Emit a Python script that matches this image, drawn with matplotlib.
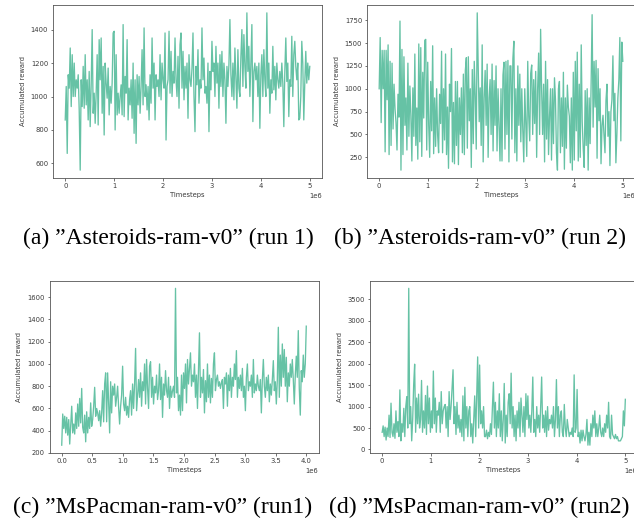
import matplotlib
matplotlib.use('Agg')
import matplotlib.pyplot as plt
import numpy as np

# accumulated reward per evaluation
asteroids_run1 = [
    860, 1060, 660, 1130, 1050, 1290, 940, 1250, 1000, 1200, 1000, 1100, 1050, 1130, 920, 560,
    1100, 940, 1180, 930, 1250, 950, 1100, 860, 1150, 820, 1070, 1400, 900, 1020, 840, 1020,
    1250, 830, 1340, 1100, 1350, 900, 1180, 770, 1200, 1080, 990, 1170, 890, 1060, 960, 1080,
    1380, 1390, 800, 1250, 890, 1020, 900, 1000, 1070, 890, 1430, 880, 1120, 1020, 1340, 860,
    1050, 950, 1100, 870, 1200, 780, 1100, 720, 1130, 950, 1120, 900, 1060, 1280, 950, 1410,
    1000, 1070, 920, 1060, 860, 1130, 960, 1350, 1050, 1200, 860, 1130, 1060, 1100, 1000, 1250,
    980, 1200, 1100, 1050, 1380, 740, 1060, 1100, 1390, 1020, 1270, 1000, 1150, 1080, 1350, 1100,
    1000, 1240, 930, 1310, 1380, 1050, 1270, 980, 1180, 1050, 1200, 870, 1250, 1100, 1060, 1170,
    1380, 1000, 790, 1180, 1070, 1280, 960, 1100, 1050, 1410, 1100, 1230, 1020, 1060, 960, 1200,
    790, 1150, 1040, 1330, 1150, 1200, 1000, 1300, 1080, 1200, 930, 1250, 1060, 1270, 1000, 1200,
    1100, 840, 1180, 1060, 1190, 1460, 1130, 1000, 1200, 980, 1290, 1100, 930, 1280, 1050, 1000,
    1240, 1400, 1060, 1370, 1180, 1050, 1500, 1150, 1300, 1000, 1200, 1430, 850, 1150, 1200, 1100,
    1180, 1000, 1200, 810, 1130, 1250, 1000, 1280, 1100, 1000, 1500, 1050, 1200, 900, 1100, 1020,
    1300, 1040, 1180, 980, 1200, 1100, 1050, 1150, 1060, 1200, 1080, 820, 1150, 1350, 1090, 1200,
    880, 1100, 1060, 1360, 1000, 1250, 1330, 1180, 1100, 1200, 860, 870, 1000, 1330, 1200, 860,
    1080, 1270, 1080, 1200, 1100, 1180,
]

asteroids_run2 = [
    1000, 1560, 630, 1420, 1000, 1420, 310, 1420, 880, 1480, 280, 1300, 380, 1280, 560, 1050,
    780, 630, 330, 940, 690, 1740, 110, 1430, 280, 1350, 600, 900, 330, 1280, 480, 1030,
    700, 210, 1010, 480, 1380, 380, 790, 230, 1490, 420, 1450, 260, 1180, 680, 1530, 1540,
    330, 1290, 600, 250, 1080, 540, 1470, 290, 900, 370, 1000, 500, 300, 940, 620, 1410,
    300, 1000, 440, 1380, 280, 800, 130, 1050, 750, 1440, 200, 850, 180, 1080, 380, 1080,
    170, 900, 500, 1010, 300, 1160, 280, 1200, 1340, 350, 1350, 650, 1000, 140, 1210, 400,
    1300, 920, 340, 1830, 1200, 640, 1010, 380, 1480, 200, 900, 1200, 600, 1270, 250, 900,
    1100, 500, 1270, 320, 1090, 600, 1250, 320, 1000, 600, 210, 1000, 210, 1150, 1290, 340,
    1300, 500, 1310, 200, 1250, 1250, 450, 1330, 1520, 300, 1000, 210, 1250, 600, 1160, 420,
    1000, 550, 200, 1000, 620, 260, 1300, 700, 430, 1170, 1260, 500, 1100, 620, 1190, 250,
    1000, 1390, 500, 1650, 1000, 500, 1050, 200, 1300, 450, 1100, 280, 700, 1000, 220, 1000,
    400, 1120, 880, 300, 110, 1000, 1080, 300, 900, 370, 1180, 120, 900, 350, 1040, 800,
    700, 190, 900, 110, 1180, 220, 1300, 540, 1400, 210, 1050, 250, 1480, 640, 350, 140,
    980, 380, 1000, 110, 900, 400, 1060, 1810, 580, 1300, 800, 1310, 240, 1220, 650, 1000,
    180, 600, 710, 490, 300, 870, 1050, 480, 750, 160, 750, 880, 1360, 650, 950, 190,
    500, 900, 1100, 1560, 430, 1510, 1300,
]

mspacman_run1 = [
    270, 550, 420, 530, 380, 520, 360, 500, 280, 460, 620, 380, 460, 370, 560, 420,
    640, 440, 690, 470, 780, 430, 380, 540, 300, 570, 380, 520, 420, 650, 440, 500,
    620, 790, 530, 600, 560, 490, 580, 440, 560, 760, 480, 820, 920, 480, 920, 650,
    380, 840, 560, 800, 720, 820, 620, 700, 800, 610, 460, 620, 720, 980, 640, 580,
    700, 540, 620, 520, 680, 760, 540, 820, 600, 820, 1140, 580, 720, 860, 700, 920,
    620, 840, 760, 1000, 640, 1040, 780, 600, 980, 1020, 700, 880, 640, 800, 740, 900,
    680, 760, 1000, 680, 880, 520, 820, 720, 940, 760, 700, 880, 600, 800, 700, 760,
    800, 700, 1680, 740, 880, 580, 720, 540, 900, 580, 920, 780, 1000, 650, 1040, 820,
    960, 1100, 800, 900, 840, 1000, 700, 900, 600, 940, 1280, 700, 880, 740, 950, 560,
    850, 660, 1000, 700, 900, 650, 870, 700, 1000, 1100, 760, 860, 900, 800, 840, 780,
    830, 860, 600, 880, 820, 920, 620, 900, 760, 960, 700, 880, 800, 1000, 860, 1120,
    700, 880, 780, 900, 760, 960, 700, 800, 580, 880, 1000, 760, 840, 800, 900, 700,
    1040, 740, 820, 760, 900, 800, 760, 860, 560, 860, 1040, 800, 700, 880, 760, 900,
    660, 820, 720, 860, 1030, 760, 840, 640, 860, 1330, 700, 1080, 800, 1180, 880, 1130,
    800, 1060, 660, 920, 800, 1000, 880, 1040, 860, 640, 900, 1070, 880, 1300, 780, 540,
    940, 840, 1080, 880, 1000, 1340,
]

mspacman_run2 = [
    400, 550, 300, 520, 220, 500, 300, 800, 280, 1080, 400, 300, 600, 260, 900, 400,
    650, 300, 1390, 200, 600, 400, 960, 300, 1000, 1230, 500, 3760, 600, 1000, 200, 700,
    1500, 1990, 400, 1200, 600, 1290, 500, 700, 1610, 400, 900, 500, 1260, 350, 1480, 600,
    1200, 400, 900, 500, 1830, 600, 1200, 400, 900, 800, 1100, 400, 1350, 600, 900, 1000,
    1050, 500, 1000, 300, 1350, 700, 1000, 1450, 1860, 600, 1000, 350, 1100, 500, 800, 400,
    700, 300, 1250, 200, 1450, 500, 1000, 300, 900, 1000, 300, 600, 150, 700, 1250, 300,
    1200, 2160, 500, 1970, 600, 900, 500, 1000, 300, 300, 450, 250, 400, 300, 600, 350,
    1000, 1570, 500, 1100, 300, 900, 500, 1300, 300, 900, 200, 700, 1540, 150, 800, 300,
    1100, 1300, 600, 1780, 500, 1000, 300, 800, 200, 900, 500, 1100, 300, 1200, 800, 400,
    1000, 300, 1300, 700, 1250, 500, 800, 400, 900, 1690, 400, 700, 300, 1000, 500, 800,
    400, 1000, 1690, 500, 800, 400, 900, 300, 1000, 450, 700, 600, 800, 500, 1000, 300,
    700, 1630, 500, 1000, 300, 800, 900, 400, 300, 1050, 500, 300, 700, 500, 300, 400,
    350, 500, 300, 1740, 400, 500, 1400, 300, 400, 150, 450, 200, 450, 300, 200, 350,
    700, 100, 400, 100, 600, 300, 800, 500, 900, 300, 600, 300, 500, 800, 400, 300,
    500, 300, 600, 400, 800, 500, 1100, 300, 250, 800, 350, 300, 250, 350, 250, 300,
    200, 200, 200, 250, 300, 900, 550, 1170,
]

panels = [
    (asteroids_run1, 5e6, '(a) \u201dAsteroids-ram-v0\u201d (run 1)'),
    (asteroids_run2, 5e6, '(b) \u201dAsteroids-ram-v0\u201d (run 2)'),
    (mspacman_run1, 4e6, '(c) \u201dMsPacman-ram-v0\u201d (run1)'),
    (mspacman_run2, 5e6, '(d) \u201dMsPacman-ram-v0\u201d (run2)'),
]

W, H = 634, 521
# axes boxes in pixels: left, top, right, bottom
boxes = [(53, 5, 322, 178), (367, 5, 635, 178), (49.5, 280.5, 318.5, 453), (370, 280.5, 637.5, 453)]
caption_pos = [(168, 238), (480.5, 238), (162.5, 507.5), (479, 507.5)]

fig = plt.figure(figsize=(W / 100, H / 100), dpi=100)

fs = 4.9
txt = '#3a3a3a'
for (vals, tmax, cap), (l, t, r, b), (cx, cy) in zip(panels, boxes, caption_pos):
    ax = fig.add_axes([l / W, 1 - b / H, (r - l) / W, (b - t) / H])
    steps = np.linspace(0, tmax, len(vals))
    ax.plot(steps, vals, color='#66c2a5', lw=0.95)
    ax.set_xlabel('Timesteps', fontsize=fs, color=txt, labelpad=2.5)
    ax.set_ylabel('Accumulated reward', fontsize=fs, color=txt, labelpad=3.5)
    ax.tick_params(labelsize=fs, length=1.8, width=0.5, pad=1.7, colors=txt)
    ax.xaxis.get_offset_text().set_fontsize(fs)
    ax.xaxis.get_offset_text().set_color(txt)
    for s in ax.spines.values():
        s.set_linewidth(0.6)
        s.set_color('#555555')
    fig.text(cx / W, 1 - cy / H, cap, ha='center', va='center',
             fontsize=17, family='Liberation Serif')

fig.savefig('out.png', dpi=100)
